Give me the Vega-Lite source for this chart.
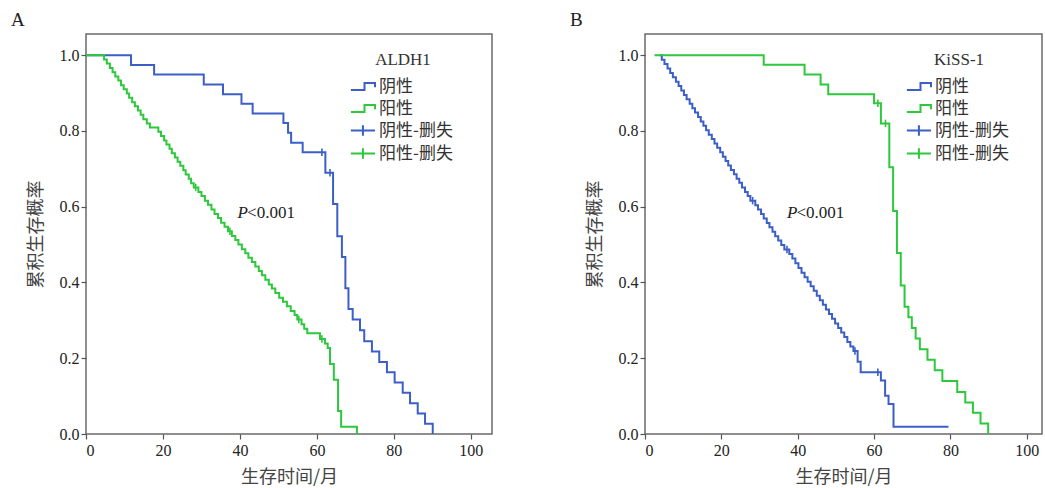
{
  "$schema": "https://vega.github.io/schema/vega-lite/v6.json",
  "background": "white",
  "padding": {"left": 10, "top": 10, "right": 0, "bottom": 0},
  "spacing": 76,
  "config": {
    "view": {"stroke": "#6a6a6a", "strokeWidth": 1.5},
    "axis": {"domain": false, "grid": false, "tickColor": "#555", "tickSize": 5, "tickWidth": 1.2, "labelFont": "Liberation Serif", "labelFontSize": 16, "labelColor": "#222", "titleFont": "Noto Sans CJK SC", "titleFontSize": 18, "titleFontWeight": "normal", "titleColor": "#444"},
    "legend": {"orient": "none", "legendY": 18, "titleFont": "Liberation Serif", "titleFontSize": 17, "titleFontWeight": "normal", "titleColor": "#333", "titleAnchor": "middle", "titlePadding": 6, "labelFont": "Noto Sans CJK SC", "labelFontSize": 17, "labelColor": "#333", "labelOffset": 3, "symbolSize": 441, "symbolStrokeWidth": 2, "rowPadding": 2},
    "title": {"anchor": "start", "frame": "bounds", "font": "Liberation Serif", "fontSize": 19, "fontWeight": "normal", "color": "#222", "offset": 4, "dx": -16}
  },
  "resolve": {"scale": {"color": "independent"}, "legend": {"color": "independent"}},
  "datasets": {
    "A_curve": [
      {"g": "阴性", "t": 0, "s": 1.0}, {"g": "阴性", "t": 11.7, "s": 0.974}, {"g": "阴性", "t": 17.7, "s": 0.949}, {"g": "阴性", "t": 30.6, "s": 0.923}, {"g": "阴性", "t": 35.6, "s": 0.897}, {"g": "阴性", "t": 40.4, "s": 0.872}, {"g": "阴性", "t": 43.3, "s": 0.846}, {"g": "阴性", "t": 51.3, "s": 0.821}, {"g": "阴性", "t": 52.5, "s": 0.795}, {"g": "阴性", "t": 53.3, "s": 0.769}, {"g": "阴性", "t": 56.3, "s": 0.744}, {"g": "阴性", "t": 62.2, "s": 0.69}, {"g": "阴性", "t": 64.2, "s": 0.607}, {"g": "阴性", "t": 65.3, "s": 0.522}, {"g": "阴性", "t": 66.5, "s": 0.467}, {"g": "阴性", "t": 67.4, "s": 0.385}, {"g": "阴性", "t": 68.2, "s": 0.33}, {"g": "阴性", "t": 69.3, "s": 0.302}, {"g": "阴性", "t": 71.2, "s": 0.274}, {"g": "阴性", "t": 72.3, "s": 0.245}, {"g": "阴性", "t": 74.3, "s": 0.218}, {"g": "阴性", "t": 76.2, "s": 0.19}, {"g": "阴性", "t": 78.2, "s": 0.163}, {"g": "阴性", "t": 80.2, "s": 0.136}, {"g": "阴性", "t": 82.3, "s": 0.109}, {"g": "阴性", "t": 84.2, "s": 0.081}, {"g": "阴性", "t": 86.2, "s": 0.054}, {"g": "阴性", "t": 88.1, "s": 0.027}, {"g": "阴性", "t": 90.1, "s": 0.0},
      {"g": "阳性", "t": 0, "s": 1.0}, {"g": "阳性", "t": 4.7, "s": 0.989}, {"g": "阳性", "t": 5.4, "s": 0.978}, {"g": "阳性", "t": 6.2, "s": 0.966}, {"g": "阳性", "t": 6.9, "s": 0.955}, {"g": "阳性", "t": 7.6, "s": 0.944}, {"g": "阳性", "t": 8.4, "s": 0.933}, {"g": "阳性", "t": 9.1, "s": 0.921}, {"g": "阳性", "t": 9.8, "s": 0.91}, {"g": "阳性", "t": 10.6, "s": 0.899}, {"g": "阳性", "t": 11.2, "s": 0.888}, {"g": "阳性", "t": 12.0, "s": 0.876}, {"g": "阳性", "t": 12.7, "s": 0.865}, {"g": "阳性", "t": 13.5, "s": 0.854}, {"g": "阳性", "t": 14.2, "s": 0.843}, {"g": "阳性", "t": 14.9, "s": 0.831}, {"g": "阳性", "t": 15.8, "s": 0.82}, {"g": "阳性", "t": 16.6, "s": 0.809},
      {"g": "阳性", "t": 18.8, "s": 0.798}, {"g": "阳性", "t": 19.5, "s": 0.787}, {"g": "阳性", "t": 20.3, "s": 0.775}, {"g": "阳性", "t": 20.9, "s": 0.764}, {"g": "阳性", "t": 21.7, "s": 0.753}, {"g": "阳性", "t": 22.3, "s": 0.741}, {"g": "阳性", "t": 23.1, "s": 0.73}, {"g": "阳性", "t": 23.8, "s": 0.719}, {"g": "阳性", "t": 24.5, "s": 0.708}, {"g": "阳性", "t": 25.3, "s": 0.696}, {"g": "阳性", "t": 25.9, "s": 0.685}, {"g": "阳性", "t": 26.7, "s": 0.674}, {"g": "阳性", "t": 27.3, "s": 0.662}, {"g": "阳性", "t": 28.0, "s": 0.651},
      {"g": "阳性", "t": 29.2, "s": 0.639}, {"g": "阳性", "t": 30.0, "s": 0.628}, {"g": "阳性", "t": 30.9, "s": 0.616}, {"g": "阳性", "t": 31.7, "s": 0.605}, {"g": "阳性", "t": 32.6, "s": 0.593}, {"g": "阳性", "t": 33.4, "s": 0.581}, {"g": "阳性", "t": 34.3, "s": 0.57}, {"g": "阳性", "t": 35.1, "s": 0.558}, {"g": "阳性", "t": 36.0, "s": 0.547}, {"g": "阳性", "t": 36.9, "s": 0.535},
      {"g": "阳性", "t": 37.9, "s": 0.523}, {"g": "阳性", "t": 38.8, "s": 0.512}, {"g": "阳性", "t": 39.6, "s": 0.5}, {"g": "阳性", "t": 40.5, "s": 0.488}, {"g": "阳性", "t": 41.4, "s": 0.477}, {"g": "阳性", "t": 42.2, "s": 0.465}, {"g": "阳性", "t": 43.1, "s": 0.454}, {"g": "阳性", "t": 44.0, "s": 0.442}, {"g": "阳性", "t": 44.9, "s": 0.43}, {"g": "阳性", "t": 45.7, "s": 0.419}, {"g": "阳性", "t": 46.6, "s": 0.407}, {"g": "阳性", "t": 47.5, "s": 0.395}, {"g": "阳性", "t": 48.3, "s": 0.384}, {"g": "阳性", "t": 49.2, "s": 0.372},
      {"g": "阳性", "t": 50.2, "s": 0.36}, {"g": "阳性", "t": 51.2, "s": 0.349}, {"g": "阳性", "t": 52.2, "s": 0.337}, {"g": "阳性", "t": 53.2, "s": 0.325}, {"g": "阳性", "t": 54.2, "s": 0.314}, {"g": "阳性", "t": 54.9, "s": 0.302}, {"g": "阳性", "t": 56.0, "s": 0.29}, {"g": "阳性", "t": 56.7, "s": 0.278}, {"g": "阳性", "t": 57.5, "s": 0.266},
      {"g": "阳性", "t": 60.8, "s": 0.251}, {"g": "阳性", "t": 62.1, "s": 0.239}, {"g": "阳性", "t": 62.8, "s": 0.227}, {"g": "阳性", "t": 63.4, "s": 0.185}, {"g": "阳性", "t": 64.4, "s": 0.143}, {"g": "阳性", "t": 65.5, "s": 0.061}, {"g": "阳性", "t": 66.3, "s": 0.019}, {"g": "阳性", "t": 70.4, "s": 0.0}
    ],
    "A_censor": [
      {"g": "阴性-删失", "t": 61.3, "s": 0.744}, {"g": "阴性-删失", "t": 63.4, "s": 0.69},
      {"g": "阳性-删失", "t": 28.5, "s": 0.651}, {"g": "阳性-删失", "t": 37.4, "s": 0.535}, {"g": "阳性-删失", "t": 55.3, "s": 0.302}, {"g": "阳性-删失", "t": 61.3, "s": 0.251}
    ],
    "B_curve": [
      {"g": "阴性", "t": 3.9, "s": 1.0}, {"g": "阴性", "t": 4.4, "s": 0.988}, {"g": "阴性", "t": 5.1, "s": 0.977}, {"g": "阴性", "t": 5.9, "s": 0.965}, {"g": "阴性", "t": 6.6, "s": 0.953}, {"g": "阴性", "t": 7.3, "s": 0.942}, {"g": "阴性", "t": 8.1, "s": 0.93}, {"g": "阴性", "t": 8.8, "s": 0.919}, {"g": "阴性", "t": 9.5, "s": 0.907}, {"g": "阴性", "t": 10.2, "s": 0.895}, {"g": "阴性", "t": 10.9, "s": 0.884}, {"g": "阴性", "t": 11.7, "s": 0.872}, {"g": "阴性", "t": 12.4, "s": 0.86}, {"g": "阴性", "t": 13.1, "s": 0.849}, {"g": "阴性", "t": 13.9, "s": 0.837}, {"g": "阴性", "t": 14.6, "s": 0.825}, {"g": "阴性", "t": 15.3, "s": 0.814}, {"g": "阴性", "t": 16.0, "s": 0.802}, {"g": "阴性", "t": 16.7, "s": 0.79}, {"g": "阴性", "t": 17.5, "s": 0.779}, {"g": "阴性", "t": 18.2, "s": 0.767}, {"g": "阴性", "t": 18.9, "s": 0.756}, {"g": "阴性", "t": 19.7, "s": 0.744}, {"g": "阴性", "t": 20.4, "s": 0.732}, {"g": "阴性", "t": 21.1, "s": 0.721}, {"g": "阴性", "t": 21.8, "s": 0.709}, {"g": "阴性", "t": 22.5, "s": 0.697}, {"g": "阴性", "t": 23.3, "s": 0.686}, {"g": "阴性", "t": 24.0, "s": 0.674}, {"g": "阴性", "t": 24.7, "s": 0.663}, {"g": "阴性", "t": 25.4, "s": 0.651}, {"g": "阴性", "t": 26.2, "s": 0.639}, {"g": "阴性", "t": 26.9, "s": 0.628}, {"g": "阴性", "t": 27.6, "s": 0.616},
      {"g": "阴性", "t": 28.9, "s": 0.604}, {"g": "阴性", "t": 29.6, "s": 0.593}, {"g": "阴性", "t": 30.4, "s": 0.581}, {"g": "阴性", "t": 31.1, "s": 0.569}, {"g": "阴性", "t": 31.9, "s": 0.557}, {"g": "阴性", "t": 32.6, "s": 0.546}, {"g": "阴性", "t": 33.4, "s": 0.534}, {"g": "阴性", "t": 34.1, "s": 0.522}, {"g": "阴性", "t": 34.9, "s": 0.511}, {"g": "阴性", "t": 35.7, "s": 0.499}, {"g": "阴性", "t": 36.5, "s": 0.487},
      {"g": "阴性", "t": 37.8, "s": 0.475}, {"g": "阴性", "t": 38.6, "s": 0.463}, {"g": "阴性", "t": 39.4, "s": 0.451}, {"g": "阴性", "t": 40.2, "s": 0.438}, {"g": "阴性", "t": 41.0, "s": 0.426}, {"g": "阴性", "t": 41.8, "s": 0.414}, {"g": "阴性", "t": 42.6, "s": 0.402}, {"g": "阴性", "t": 43.4, "s": 0.39}, {"g": "阴性", "t": 44.2, "s": 0.378}, {"g": "阴性", "t": 45.0, "s": 0.365}, {"g": "阴性", "t": 45.8, "s": 0.353}, {"g": "阴性", "t": 46.6, "s": 0.341}, {"g": "阴性", "t": 47.4, "s": 0.329}, {"g": "阴性", "t": 48.2, "s": 0.317}, {"g": "阴性", "t": 49.0, "s": 0.304}, {"g": "阴性", "t": 49.8, "s": 0.292}, {"g": "阴性", "t": 50.6, "s": 0.28}, {"g": "阴性", "t": 51.4, "s": 0.268}, {"g": "阴性", "t": 52.2, "s": 0.256}, {"g": "阴性", "t": 53.0, "s": 0.243}, {"g": "阴性", "t": 53.8, "s": 0.231}, {"g": "阴性", "t": 54.6, "s": 0.219},
      {"g": "阴性", "t": 55.7, "s": 0.191}, {"g": "阴性", "t": 56.5, "s": 0.163}, {"g": "阴性", "t": 61.8, "s": 0.141}, {"g": "阴性", "t": 62.9, "s": 0.101}, {"g": "阴性", "t": 63.8, "s": 0.079}, {"g": "阴性", "t": 65.1, "s": 0.019}, {"g": "阴性", "t": 79.5, "s": 0.019},
      {"g": "阳性", "t": 2.5, "s": 1.0}, {"g": "阳性", "t": 31.1, "s": 0.975}, {"g": "阳性", "t": 41.8, "s": 0.949}, {"g": "阳性", "t": 46.0, "s": 0.923}, {"g": "阳性", "t": 48.0, "s": 0.897}, {"g": "阳性", "t": 60.0, "s": 0.873}, {"g": "阳性", "t": 61.8, "s": 0.82}, {"g": "阳性", "t": 64.0, "s": 0.704}, {"g": "阳性", "t": 65.0, "s": 0.589}, {"g": "阳性", "t": 66.0, "s": 0.478}, {"g": "阳性", "t": 67.0, "s": 0.392}, {"g": "阳性", "t": 68.0, "s": 0.336}, {"g": "阳性", "t": 69.0, "s": 0.308}, {"g": "阳性", "t": 69.9, "s": 0.28}, {"g": "阳性", "t": 70.9, "s": 0.252}, {"g": "阳性", "t": 72.0, "s": 0.224}, {"g": "阳性", "t": 74.0, "s": 0.196}, {"g": "阳性", "t": 75.9, "s": 0.168}, {"g": "阳性", "t": 77.9, "s": 0.14}, {"g": "阳性", "t": 81.8, "s": 0.111}, {"g": "阳性", "t": 83.9, "s": 0.083}, {"g": "阳性", "t": 85.9, "s": 0.056}, {"g": "阳性", "t": 87.9, "s": 0.028}, {"g": "阳性", "t": 89.9, "s": 0.0}
    ],
    "B_censor": [
      {"g": "阴性-删失", "t": 28.2, "s": 0.616}, {"g": "阴性-删失", "t": 37.2, "s": 0.487}, {"g": "阴性-删失", "t": 55.0, "s": 0.219}, {"g": "阴性-删失", "t": 61.0, "s": 0.163},
      {"g": "阳性-删失", "t": 61.0, "s": 0.873}, {"g": "阳性-删失", "t": 63.0, "s": 0.82}
    ],
    "one": [{}]
  },
  "hconcat": [
    {
      "width": 406, "height": 400,
      "title": {"text": "A"},
      "layer": [
        {
          "data": {"name": "A_curve"},
          "mark": {"type": "line", "interpolate": "step-after", "strokeWidth": 2},
          "encoding": {
            "x": {"field": "t", "type": "quantitative", "scale": {"domain": [0, 105.5], "nice": false, "zero": false}, "axis": {"values": [0, 20, 40, 60, 80, 100], "title": "生存时间/月", "labelPadding": 3, "titlePadding": 10}},
            "y": {"field": "s", "type": "quantitative", "scale": {"domain": [0, 1.056], "nice": false}, "axis": {"values": [0, 0.2, 0.4, 0.6, 0.8, 1.0], "format": ".1f", "title": "累积生存概率", "labelPadding": 2, "titlePadding": 14}},
            "color": {"field": "g", "type": "nominal", "scale": {"domain": ["阴性", "阳性", "阴性-删失", "阳性-删失"], "range": ["#3b5fc7", "#2dc83c", "#3b5fc7", "#2dc83c"]},
              "legend": {"title": "ALDH1", "legendX": 267, "encode": {"symbols": {"update": {"shape": {"signal": "indexof(datum.value, '删失') >= 0 ? 'M-1.3,0H1M-0.15,-0.49V0.49' : 'M-1.3,0.33H0V-0.33H1V0.07'"}, "size": {"value": 441}, "fill": {"value": "transparent"}, "strokeWidth": {"value": 2}}}}}}
          }
        },
        {
          "data": {"name": "A_censor"},
          "mark": {"type": "point", "shape": "M0,-1V1", "size": 56, "strokeWidth": 1.6, "filled": false, "opacity": 1},
          "encoding": {
            "x": {"field": "t", "type": "quantitative"},
            "y": {"field": "s", "type": "quantitative"},
            "color": {"field": "g", "type": "nominal"}
          }
        },
        {
          "data": {"name": "one"},
          "mark": {"type": "text", "text": "P", "font": "Liberation Serif", "fontStyle": "italic", "fontSize": 17, "align": "left", "baseline": "alphabetic", "color": "#222"},
          "encoding": {"x": {"datum": 39.4}, "y": {"datum": 0.57}}
        },
        {
          "data": {"name": "one"},
          "mark": {"type": "text", "text": "<0.001", "font": "Liberation Serif", "fontSize": 17, "align": "left", "baseline": "alphabetic", "dx": 9.5, "color": "#222"},
          "encoding": {"x": {"datum": 39.4}, "y": {"datum": 0.57}}
        }
      ]
    },
    {
      "width": 397, "height": 400,
      "title": {"text": "B"},
      "layer": [
        {
          "data": {"name": "B_curve"},
          "mark": {"type": "line", "interpolate": "step-after", "strokeWidth": 2},
          "encoding": {
            "x": {"field": "t", "type": "quantitative", "scale": {"domain": [0, 104], "nice": false, "zero": false}, "axis": {"values": [0, 20, 40, 60, 80, 100], "title": "生存时间/月", "labelPadding": 3, "titlePadding": 10}},
            "y": {"field": "s", "type": "quantitative", "scale": {"domain": [0, 1.056], "nice": false}, "axis": {"values": [0, 0.2, 0.4, 0.6, 0.8, 1.0], "format": ".1f", "title": "累积生存概率", "labelPadding": 2, "titlePadding": 14}},
            "color": {"field": "g", "type": "nominal", "scale": {"domain": ["阴性", "阳性", "阴性-删失", "阳性-删失"], "range": ["#3b5fc7", "#2dc83c", "#3b5fc7", "#2dc83c"]},
              "legend": {"title": "KiSS-1", "legendX": 264, "encode": {"symbols": {"update": {"shape": {"signal": "indexof(datum.value, '删失') >= 0 ? 'M-1.3,0H1M-0.15,-0.49V0.49' : 'M-1.3,0.33H0V-0.33H1V0.07'"}, "size": {"value": 441}, "fill": {"value": "transparent"}, "strokeWidth": {"value": 2}}}}}}
          }
        },
        {
          "data": {"name": "B_censor"},
          "mark": {"type": "point", "shape": "M0,-1V1", "size": 56, "strokeWidth": 1.6, "filled": false, "opacity": 1},
          "encoding": {
            "x": {"field": "t", "type": "quantitative"},
            "y": {"field": "s", "type": "quantitative"},
            "color": {"field": "g", "type": "nominal"}
          }
        },
        {
          "data": {"name": "one"},
          "mark": {"type": "text", "text": "P", "font": "Liberation Serif", "fontStyle": "italic", "fontSize": 17, "align": "left", "baseline": "alphabetic", "color": "#222"},
          "encoding": {"x": {"datum": 37.2}, "y": {"datum": 0.57}}
        },
        {
          "data": {"name": "one"},
          "mark": {"type": "text", "text": "<0.001", "font": "Liberation Serif", "fontSize": 17, "align": "left", "baseline": "alphabetic", "dx": 9.5, "color": "#222"},
          "encoding": {"x": {"datum": 37.2}, "y": {"datum": 0.57}}
        }
      ]
    }
  ]
}
